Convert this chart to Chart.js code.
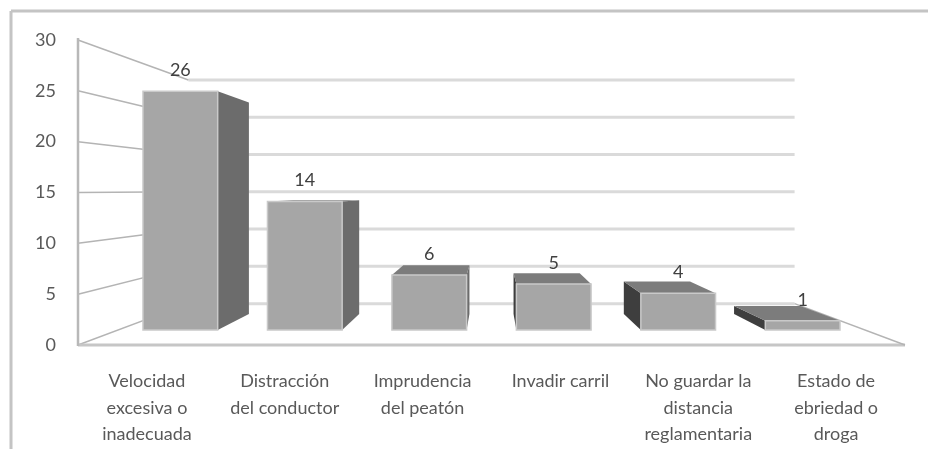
<!DOCTYPE html>
<html>
<head>
<meta charset="utf-8">
<script src="https://cdn.jsdelivr.net/npm/chart.js@4"></script>
<style>
  html, body { margin: 0; padding: 0; background: #ffffff; }
  #wrap { width: 928px; height: 449px; position: relative; }
</style>
</head>
<body>
<div id="wrap"><canvas id="c" width="928" height="449"></canvas></div>
<script>
// ---- data ----
const categories = [
  ["Velocidad", "excesiva o", "inadecuada"],
  ["Distracción", "del conductor"],
  ["Imprudencia", "del peatón"],
  ["Invadir carril"],
  ["No guardar la", "distancia", "reglamentaria"],
  ["Estado de", "ebriedad o", "droga"]
];
const values = [26, 14, 6, 5, 4, 1];
const yTicks = [0, 5, 10, 15, 20, 25, 30];

// ---- 3D look parameters ----
const VX_FRAC = 0.50;   // vanishing point, fraction of chart area width
const VY_FRAC = 0.492;  // vanishing point, fraction of chart area height
const K_BAR_FRONT = 0.903;
const K_BAR_BACK = 0.80;
const K_WALL = 0.733;
const FONT = "Lato, 'Open Sans', sans-serif";

function vp(chart) {
  const a = chart.chartArea;
  return [a.left + (a.right - a.left) * VX_FRAC, a.top + (a.bottom - a.top) * VY_FRAC];
}
function proj(chart, x, y, k) {
  const [vx, vy] = vp(chart);
  return [vx + (x - vx) * k, vy + (y - vy) * k];
}
function poly(ctx, pts, fill, stroke, lw) {
  ctx.beginPath();
  ctx.moveTo(pts[0][0], pts[0][1]);
  for (let i = 1; i < pts.length; i++) ctx.lineTo(pts[i][0], pts[i][1]);
  ctx.closePath();
  if (fill) { ctx.fillStyle = fill; ctx.fill(); }
  if (stroke) { ctx.strokeStyle = stroke; ctx.lineWidth = lw || 1; ctx.stroke(); }
}
function line(ctx, a, b, color, lw) {
  ctx.beginPath();
  ctx.moveTo(a[0], a[1]);
  ctx.lineTo(b[0], b[1]);
  ctx.strokeStyle = color;
  ctx.lineWidth = lw;
  ctx.stroke();
}

const frame3d = {
  id: 'frame3d',
  beforeDraw(chart) {
    const ctx = chart.ctx;
    ctx.save();
    ctx.fillStyle = '#ffffff';
    ctx.fillRect(0, 0, chart.width, chart.height);
    // outer chart border (top and left visible)
    line(ctx, [11, 11], [chart.width, 11], '#c4c4c4', 3);
    line(ctx, [11, 11], [11, chart.height], '#c4c4c4', 3);
    ctx.restore();
  },
  beforeDatasetsDraw(chart) {
    const ctx = chart.ctx;
    const a = chart.chartArea;
    const ys = chart.scales.y;
    ctx.save();
    ctx.lineCap = 'butt';
    // back wall gridlines
    yTicks.forEach(v => {
      const yf = ys.getPixelForValue(v);
      const p1 = proj(chart, a.left, yf, K_WALL);
      const p2 = proj(chart, a.right, yf, K_WALL);
      line(ctx, p1, p2, '#dadada', 3);
    });
    // left wall gridlines
    yTicks.forEach(v => {
      const yf = ys.getPixelForValue(v);
      line(ctx, [a.left, yf], proj(chart, a.left, yf, K_WALL), '#b4b4b4', 1.5);
    });
    // floor edges
    const yb = ys.getPixelForValue(0);
    line(ctx, [a.left, yb], [a.right, yb], '#c6c6c6', 3);
    line(ctx, proj(chart, a.right, yb, K_WALL), [a.right, yb], '#b4b4b4', 1.5);
    // left axis line
    line(ctx, [a.left, a.top - 2], [a.left, yb + 1], '#b8b8b8', 2.5);
    ctx.restore();
  },
  afterDatasetsDraw(chart) {
    const ctx = chart.ctx;
    const [vx, vy] = vp(chart);
    const meta = chart.getDatasetMeta(0);
    ctx.save();
    meta.data.forEach((el, i) => {
      const p = el.getProps(['x', 'y', 'base', 'width'], true);
      const xl = p.x - p.width / 2, xr = p.x + p.width / 2;
      const yt = p.y, yb = p.base;
      const F = (x, y) => proj(chart, x, y, K_BAR_FRONT);
      const B = (x, y) => proj(chart, x, y, K_BAR_BACK);
      // right side face
      if (xr < vx) {
        poly(ctx, [F(xr, yt), B(xr, yt), B(xr, yb), F(xr, yb)], '#6c6c6c');
      }
      // left side face
      if (xl > vx) {
        poly(ctx, [F(xl, yt), B(xl, yt), B(xl, yb), F(xl, yb)], '#3e3e3e');
      }
      // top face
      if (yt > vy) {
        poly(ctx, [F(xl, yt), B(xl, yt), B(xr, yt), F(xr, yt)], '#7c7c7c');
      }
      // front face
      poly(ctx, [F(xl, yt), F(xr, yt), F(xr, yb), F(xl, yb)], '#a6a6a6', '#c9c9c9', 1.5);
      // data label
      const top = F(p.x, yt);
      ctx.fillStyle = '#404040';
      ctx.font = '18px ' + FONT;
      ctx.textAlign = 'center';
      ctx.textBaseline = 'middle';
      ctx.fillText(String(values[i]), top[0], top[1] - 21);
    });
    ctx.restore();
  }
};

new Chart(document.getElementById('c'), {
  type: 'bar',
  data: {
    labels: categories,
    datasets: [{
      data: values,
      backgroundColor: 'rgba(0,0,0,0)',
      borderWidth: 0,
      barPercentage: 0.6,
      categoryPercentage: 1.0
    }]
  },
  options: {
    responsive: false,
    animation: false,
    devicePixelRatio: 1,
    layout: { padding: { top: 40, right: 23, left: 0, bottom: 0 } },
    plugins: { legend: { display: false }, tooltip: { enabled: false } },
    scales: {
      x: {
        grid: { display: false },
        border: { display: false },
        ticks: {
          color: '#595959',
          font: { family: FONT, size: 18, lineHeight: 1.48 },
          maxRotation: 0,
          autoSkip: false,
          padding: 15
        },
        afterFit(scale) { scale.height = 104; }
      },
      y: {
        min: 0,
        max: 30,
        grid: { display: false },
        border: { display: false },
        afterBuildTicks(scale) { scale.ticks = yTicks.map(v => ({ value: v })); },
        ticks: {
          color: '#595959',
          font: { family: FONT, size: 18 },
          padding: 14
        },
        afterFit(scale) { scale.width = 78; }
      }
    }
  },
  plugins: [frame3d]
});
</script>
</body>
</html>
